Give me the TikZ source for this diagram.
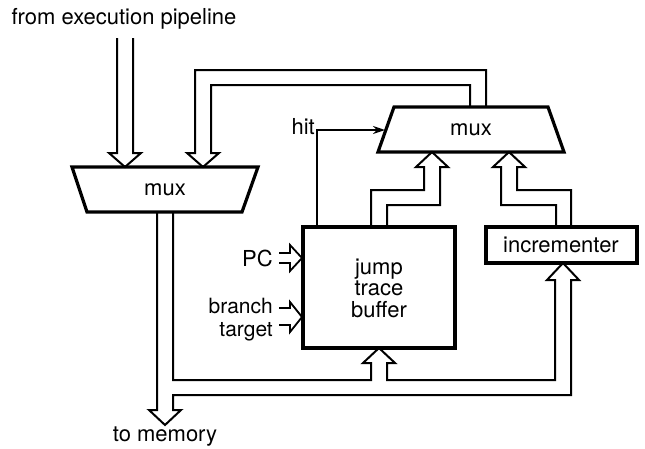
\documentclass[tikz,border=0pt]{standalone}
\usepackage{fontspec}
\setmainfont{TeX Gyre Heros}
\usetikzlibrary{arrows.meta}
\begin{document}
\begin{tikzpicture}[x=1pt,y=-1pt,
  bus/.style={line width=2pt, line join=miter},
  blk/.style={line width=3.2pt, line join=miter},
  pin/.style={line width=1.8pt, line join=miter},
  lbl/.style={font=\fontsize{22}{21.5}\selectfont, inner sep=0pt},
  sml/.style={font=\fontsize{21}{21}\selectfont, inner sep=0pt},
]
\useasboundingbox (0,0) rectangle (645,448);
% blocks
\draw[blk] (72,167) -- (258,167) -- (242,212) -- (87,212) -- cycle;
\node[lbl] (lmux) at (165,190) {mux};
\draw[blk] (394,107) -- (548,107) -- (564,152) -- (378,152) -- cycle;
\node[lbl] (rmux) at (471,130) {mux};
\draw[blk] (303,227) rectangle (455,348);
\node[lbl, align=center] (jtb) at (379,288) {jump\\trace\\buffer};
\draw[blk] (486,227) rectangle (637,263);
\node[lbl] (inc) at (561,245) {incrementer};
% labels
\node[lbl] (from) at (124,19) {from execution pipeline};
\node[lbl] (tomem) at (165,437) {to memory};
\node[lbl, anchor=east] (hit) at (315,127) {hit};
\node[lbl, anchor=east] (pc) at (273,258) {PC};
\node[sml, anchor=base east] (br) at (273,313) {branch};
\node[sml, anchor=base east] (tg) at (273,336) {target};
% buses
\draw[bus] (117,38) -- (117,153) -- (109,153) -- (125,167) -- (141,153) -- (133,153) -- (133,38);
\draw[bus] (486,107) -- (486,70) -- (195,70) -- (195,153) -- (187,153) -- (203,167) -- (219,153) -- (211,153) -- (211,85) -- (470,85) -- (470,107);
\draw[bus] (371,227) -- (371,190) -- (424,190) -- (424,167) -- (416,167) -- (432,152) -- (448,167) -- (440,167) -- (440,205) -- (387,205) -- (387,227);
\draw[bus] (556,227) -- (556,205) -- (501,205) -- (501,167) -- (493,167) -- (509,152) -- (525,167) -- (517,167) -- (517,190) -- (571,190) -- (571,227);
\draw[bus] (157,212) -- (157,410) -- (149,410) -- (165,425) -- (181,410) -- (173,410) -- (173,395) -- (571,395) -- (571,280) -- (579,280) -- (563,263) -- (547,280) -- (555,280) -- (555,380) -- (387,380) -- (387,363) -- (395,363) -- (379,348) -- (363,363) -- (371,363) -- (371,380) -- (173,380) -- (173,212);
% hit
\draw[line width=1.6pt, -{Stealth[length=12pt, width=8pt]}] (317,227) -- (317,130) -- (385,130);
% small inputs
\draw[pin] (279,253) -- (290,253) -- (290,245) -- (302,258) -- (290,271) -- (290,263) -- (279,263);
\draw[pin] (279,308) -- (290,308) -- (290,302) -- (302,317) -- (290,332) -- (290,325) -- (279,325);
\end{tikzpicture}
\end{document}
